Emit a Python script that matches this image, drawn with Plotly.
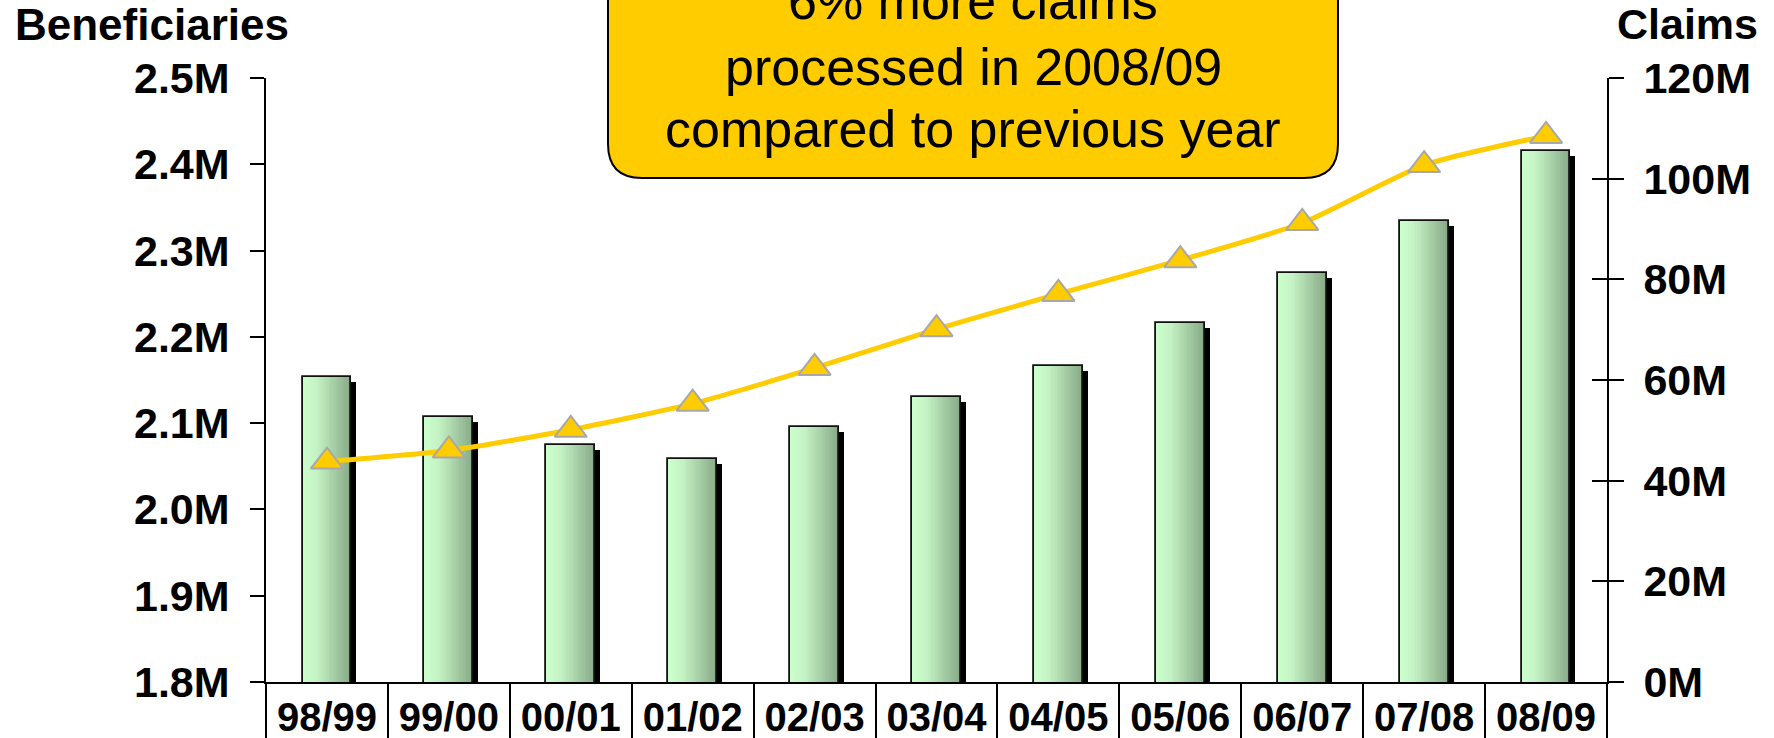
import plotly.graph_objects as go

# ---- data -------------------------------------------------------------
years = ["98/99", "99/00", "00/01", "01/02", "02/03", "03/04",
         "04/05", "05/06", "06/07", "07/08", "08/09"]
beneficiaries_m = [2.154, 2.107, 2.075, 2.059, 2.096, 2.130,
                   2.166, 2.216, 2.274, 2.334, 2.415]
claims_m = [43.8, 46.0, 50.1, 55.3, 62.4, 70.1,
            77.1, 83.8, 91.2, 102.7, 108.5]

benef_ticks = [1.8, 1.9, 2.0, 2.1, 2.2, 2.3, 2.4, 2.5]
benef_tick_text = ["1.8M", "1.9M", "2.0M", "2.1M", "2.2M", "2.3M", "2.4M", "2.5M"]
claims_ticks = [0, 20, 40, 60, 80, 100, 120]
claims_tick_text = ["0M", "20M", "40M", "60M", "80M", "100M", "120M"]

callout_lines = ["6% more claims", "processed in 2008/09", "compared to previous year"]

# ---- geometry / style -------------------------------------------------
W, H = 1774, 738
ML, MR, MT, MB = 266, 167, 78, 56
PW, PH = W - ML - MR, H - MT - MB
BENEF_RANGE = [1.8, 2.5]
CLAIMS_RANGE = [0, 120]

FONT = "Liberation Sans, Arial, Helvetica, sans-serif"
GOLD = "#FFCC00"


def xp(px):
    return (px - ML) / PW


def yp(py):
    return (H - MB - py) / PH


BAR_W = 0.40
half = BAR_W / 2
cat_px = PW / len(years)
shadow_dx = 5 / cat_px
shadow_dy = 5 * (BENEF_RANGE[1] - BENEF_RANGE[0]) / PH

# horizontal gradient stops for the bar faces
stops = [(0.0, (204, 255, 204)), (0.30, (196, 242, 196)), (1.0, (134, 168, 134))]


def grad(t):
    for (t0, c0), (t1, c1) in zip(stops[:-1], stops[1:]):
        if t <= t1:
            f = (t - t0) / (t1 - t0)
            return "rgb(%d,%d,%d)" % tuple(round(a + (b - a) * f) for a, b in zip(c0, c1))
    return "rgb(%d,%d,%d)" % stops[-1][1]


fig = go.Figure()

# drop shadow behind each bar
fig.add_trace(go.Bar(
    x=years, y=[v - shadow_dy for v in beneficiaries_m],
    width=BAR_W, offset=-half + shadow_dx,
    marker=dict(color="black", line=dict(width=0)),
    hoverinfo="skip", showlegend=False,
))

# gradient face built from thin vertical slices
N = 28
step = BAR_W / N
for k in range(N):
    start = -half + k * step
    w = min(step * 1.8, half - start)
    fig.add_trace(go.Bar(
        x=years, y=beneficiaries_m,
        width=w, offset=start,
        marker=dict(color=grad((k + 0.5) / N), line=dict(width=0)),
        hoverinfo="skip", showlegend=False,
    ))

# bar outline
fig.add_trace(go.Bar(
    x=years, y=beneficiaries_m, name="Beneficiaries",
    width=BAR_W, offset=-half,
    marker=dict(color="rgba(0,0,0,0)", line=dict(color="#111111", width=1.8)),
    showlegend=False,
))

# claims line on the secondary axis
fig.add_trace(go.Scatter(
    x=years, y=claims_m, name="Claims", yaxis="y2",
    mode="lines+markers",
    line=dict(color=GOLD, width=5, shape="spline", smoothing=0.6),
    marker=dict(symbol="triangle-up", size=28, color=GOLD,
                line=dict(color="#A8A8A8", width=2)),
    showlegend=False,
))

# invisible trace so the inner tick set on the claims axis is drawn
fig.add_trace(go.Scatter(x=[years[0]], y=[0], yaxis="y3", mode="markers",
                         marker=dict(opacity=0), hoverinfo="skip", showlegend=False))

# callout box with rounded lower corners
bx0, bx1, by0, by1, r = 608, 1338, -40, 178, 34
path = (
    f"M {xp(bx0)},{yp(by0)} L {xp(bx0)},{yp(by1 - r)} "
    f"Q {xp(bx0)},{yp(by1)} {xp(bx0 + r)},{yp(by1)} "
    f"L {xp(bx1 - r)},{yp(by1)} "
    f"Q {xp(bx1)},{yp(by1)} {xp(bx1)},{yp(by1 - r)} "
    f"L {xp(bx1)},{yp(by0)} Z"
)
fig.add_shape(type="path", path=path, xref="paper", yref="paper",
              fillcolor=GOLD, line=dict(color="black", width=2), layer="above")

line_centers = [1, 67, 129]
for txt, cy in zip(callout_lines, line_centers):
    fig.add_annotation(text=txt, xref="paper", yref="paper",
                       x=xp((bx0 + bx1) / 2), y=yp(cy),
                       xanchor="center", yanchor="middle", showarrow=False,
                       font=dict(family=FONT, size=52, color="black"))

# axis titles
fig.add_annotation(text="<b>Beneficiaries</b>", xref="paper", yref="paper",
                   x=xp(13), y=yp(24), xanchor="left", yanchor="middle",
                   showarrow=False, font=dict(family=FONT, size=44, color="black"))
fig.add_annotation(text="<b>Claims</b>", xref="paper", yref="paper",
                   x=xp(1760), y=yp(24), xanchor="right", yanchor="middle",
                   showarrow=False, font=dict(family=FONT, size=43, color="black"))

tick_font = dict(family=FONT, size=43, color="black", weight="bold")

fig.update_layout(
    width=W, height=H,
    margin=dict(l=ML, r=MR, t=MT, b=MB, pad=0, autoexpand=False),
    paper_bgcolor="white", plot_bgcolor="white",
    barmode="overlay", bargap=0,
    font=dict(family=FONT, color="black"),
    xaxis=dict(
        type="category", range=[-0.5, len(years) - 0.5],
        showline=True, linecolor="black", linewidth=2,
        ticks="outside", tickson="boundaries", ticklen=80,
        tickcolor="black", tickwidth=2,
        tickfont=dict(family=FONT, size=40, color="black", weight="bold"),
        ticklabelstandoff=-1, automargin=False,
        showgrid=False, zeroline=False, fixedrange=True,
    ),
    yaxis=dict(
        range=BENEF_RANGE, tickvals=benef_ticks, ticktext=benef_tick_text,
        showline=True, linecolor="black", linewidth=1.6,
        ticks="outside", ticklen=14, tickcolor="black", tickwidth=1.6,
        tickfont=tick_font, ticklabelstandoff=12, automargin=False,
        showgrid=False, zeroline=False,
    ),
    yaxis2=dict(
        range=CLAIMS_RANGE, tickvals=claims_ticks, ticktext=claims_tick_text,
        overlaying="y", side="right", anchor="x",
        showline=True, linecolor="black", linewidth=1.6,
        ticks="outside", ticklen=15, tickcolor="black", tickwidth=1.6,
        tickfont=tick_font, ticklabelstandoff=11, automargin=False,
        showgrid=False, zeroline=False,
    ),
    yaxis3=dict(
        range=CLAIMS_RANGE, tickvals=claims_ticks,
        overlaying="y", side="right", anchor="x",
        showline=False, showticklabels=False, automargin=False,
        ticks="inside", ticklen=15, tickcolor="black", tickwidth=1.6,
        showgrid=False, zeroline=False,
    ),
)

fig.write_html("out.html")
